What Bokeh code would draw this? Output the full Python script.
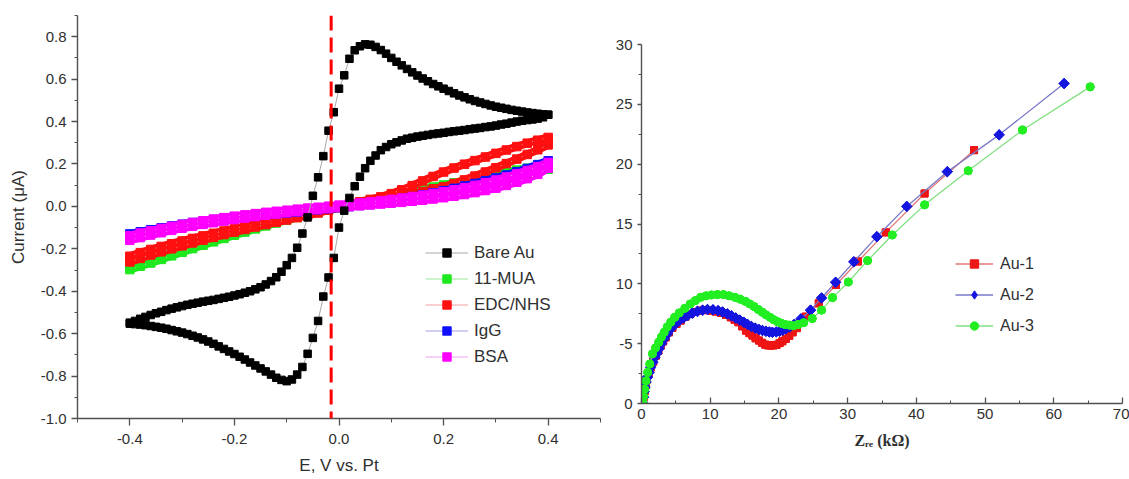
from bokeh.plotting import figure
from bokeh.models import FixedTicker, Span, Legend, LegendItem, PrintfTickFormatter, Range1d, Spacer
from bokeh.layouts import row, column
from bokeh.embed import file_html
from bokeh.resources import INLINE

# ---------------- Left panel: cyclic voltammograms ----------------
E_fine = [round(-0.40 + 0.01 * i, 2) for i in range(81)]      # potential sweep, 10 mV
bare_fwd = [-0.548, -0.540, -0.530, -0.521, -0.512, -0.504, -0.497, -0.489, -0.482, -0.476,
            -0.470, -0.464, -0.459, -0.454, -0.449, -0.445, -0.441, -0.436, -0.431, -0.426,
            -0.420, -0.414, -0.407, -0.400, -0.391, -0.381, -0.368, -0.352, -0.334, -0.308,
            -0.277, -0.243, -0.195, -0.128, -0.052, 0.050, 0.137, 0.237, 0.357, 0.444,
            0.555, 0.618, 0.696, 0.736, 0.755, 0.764, 0.762, 0.752, 0.737, 0.720,
            0.700, 0.682, 0.665, 0.648, 0.632, 0.617, 0.603, 0.590, 0.577, 0.566,
            0.555, 0.544, 0.533, 0.523, 0.514, 0.505, 0.497, 0.490, 0.483, 0.476,
            0.470, 0.465, 0.460, 0.455, 0.451, 0.447, 0.443, 0.440, 0.437, 0.434, 0.432]
# reverse scan, listed from +0.40 V back to -0.40 V
bare_rev = [0.432, 0.420, 0.414, 0.410, 0.407, 0.404, 0.400, 0.395, 0.390, 0.386,
            0.381, 0.377, 0.374, 0.370, 0.367, 0.364, 0.360, 0.357, 0.354, 0.351,
            0.347, 0.344, 0.341, 0.337, 0.333, 0.329, 0.324, 0.319, 0.311, 0.302,
            0.293, 0.280, 0.265, 0.240, 0.215, 0.180, 0.140, 0.095, 0.040, -0.020,
            -0.100, -0.243, -0.335, -0.425, -0.540, -0.620, -0.695, -0.757, -0.793, -0.816,
            -0.824, -0.818, -0.808, -0.793, -0.778, -0.764, -0.750, -0.736, -0.722, -0.709,
            -0.696, -0.684, -0.672, -0.660, -0.648, -0.637, -0.627, -0.618, -0.610, -0.602,
            -0.595, -0.589, -0.583, -0.577, -0.572, -0.568, -0.564, -0.560, -0.557, -0.555, -0.553]

E_coarse = [round(-0.40 + 0.02 * i, 2) for i in range(41)]    # potential sweep, 20 mV
mua_up = [-0.272, -0.256, -0.241, -0.226, -0.211, -0.196, -0.181, -0.167, -0.153, -0.139,
          -0.125, -0.111, -0.098, -0.085, -0.072, -0.059, -0.047, -0.035, -0.023, -0.011,
          0.001, 0.011, 0.021, 0.031, 0.041, 0.051, 0.061, 0.071, 0.081, 0.091,
          0.101, 0.111, 0.121, 0.131, 0.141, 0.151, 0.161, 0.171, 0.180, 0.188, 0.195]
mua_lo = [-0.298, -0.282, -0.267, -0.250, -0.233, -0.216, -0.199, -0.183, -0.167, -0.151,
          -0.136, -0.121, -0.106, -0.092, -0.078, -0.065, -0.052, -0.040, -0.028, -0.016,
          -0.005, 0.005, 0.014, 0.022, 0.030, 0.038, 0.046, 0.054, 0.062, 0.070,
          0.079, 0.088, 0.097, 0.107, 0.117, 0.128, 0.139, 0.150, 0.160, 0.168, 0.175]
edc_up = [-0.235, -0.218, -0.203, -0.189, -0.176, -0.163, -0.151, -0.139, -0.127, -0.116,
          -0.105, -0.094, -0.083, -0.073, -0.063, -0.053, -0.043, -0.033, -0.022, -0.010,
          0.003, 0.012, 0.022, 0.033, 0.045, 0.060, 0.078, 0.098, 0.120, 0.141,
          0.162, 0.181, 0.199, 0.216, 0.233, 0.250, 0.266, 0.282, 0.298, 0.312, 0.325]
edc_lo = [-0.262, -0.245, -0.229, -0.214, -0.200, -0.186, -0.172, -0.159, -0.146, -0.133,
          -0.121, -0.109, -0.097, -0.086, -0.075, -0.064, -0.053, -0.042, -0.031, -0.018,
          -0.006, 0.003, 0.011, 0.019, 0.028, 0.037, 0.047, 0.058, 0.070, 0.083,
          0.092, 0.108, 0.125, 0.143, 0.162, 0.182, 0.202, 0.223, 0.245, 0.267, 0.290]
igg_up = [-0.130, -0.120, -0.110, -0.101, -0.092, -0.084, -0.076, -0.069, -0.062, -0.055,
          -0.049, -0.043, -0.037, -0.032, -0.027, -0.022, -0.017, -0.013, -0.008, -0.003,
          0.002, 0.007, 0.012, 0.018, 0.024, 0.031, 0.038, 0.046, 0.055, 0.064,
          0.074, 0.085, 0.096, 0.108, 0.121, 0.134, 0.148, 0.163, 0.179, 0.197, 0.215]
igg_lo = [-0.145, -0.134, -0.124, -0.114, -0.105, -0.096, -0.088, -0.080, -0.073, -0.066,
          -0.059, -0.053, -0.047, -0.041, -0.036, -0.031, -0.026, -0.021, -0.016, -0.011,
          -0.006, -0.001, 0.004, 0.009, 0.015, 0.021, 0.027, 0.034, 0.041, 0.049,
          0.057, 0.066, 0.076, 0.086, 0.097, 0.109, 0.122, 0.136, 0.151, 0.167, 0.185]
bsa_up = [-0.138, -0.126, -0.115, -0.104, -0.094, -0.085, -0.076, -0.068, -0.060, -0.053,
          -0.046, -0.040, -0.034, -0.028, -0.023, -0.018, -0.013, -0.008, -0.004, 0.001,
          0.006, 0.011, 0.016, 0.021, 0.027, 0.033, 0.039, 0.046, 0.053, 0.061,
          0.069, 0.078, 0.088, 0.099, 0.111, 0.124, 0.138, 0.153, 0.169, 0.187, 0.207]
bsa_lo = [-0.160, -0.147, -0.135, -0.124, -0.113, -0.103, -0.094, -0.085, -0.077, -0.069,
          -0.062, -0.055, -0.048, -0.042, -0.036, -0.030, -0.025, -0.020, -0.015, -0.010,
          -0.005, -0.001, 0.003, 0.007, 0.011, 0.015, 0.019, 0.024, 0.029, 0.035,
          0.041, 0.048, 0.056, 0.065, 0.075, 0.086, 0.099, 0.114, 0.131, 0.151, 0.180]
dash_E = -0.015

cv_labels = ["Bare Au", "11-MUA", "EDC/NHS", "IgG", "BSA"]
cv_colors = ["#000000", "#1ee81e", "#ff1010", "#1010ff", "#ff00ff"]
cv_pale = ["#a8a8a8", "#9be89b", "#f0a0a0", "#a0a0e8", "#f0a0f0"]

# ---------------- Right panel: Nyquist plots ----------------
au1_x = [0.2, 0.3, 0.45, 0.6, 0.8, 1.05, 1.35, 1.7, 2.1, 2.45, 2.8, 3.15, 3.55, 4.0, 4.5, 5.1, 5.7, 6.4,
         7.1, 7.8, 8.5, 9.3, 10.1, 10.8, 11.55, 12.3, 13.0, 13.55, 14.1, 14.65, 15.2, 15.7, 16.15,
         16.6, 17.1, 17.55, 18.0, 18.4, 18.8, 19.2, 19.65, 20.1, 20.5, 21.0, 21.5, 22.0, 22.6, 23.9,
         25.8, 28.3, 31.5, 35.55, 41.2, 48.4]
au1_y = [0.05, 0.5, 1.0, 1.5, 2.0, 2.5, 3.0, 3.5, 4.0, 4.42, 4.84, 5.2, 5.53, 5.95, 6.32, 6.65, 6.93, 7.25,
         7.49, 7.65, 7.76, 7.8, 7.76, 7.68, 7.57, 7.4, 7.2, 7.0, 6.79, 6.45, 6.09, 5.88, 5.68,
         5.45, 5.26, 5.07, 4.92, 4.86, 4.84, 4.86, 4.9, 5.05, 5.2, 5.4, 5.65, 5.95, 6.3, 7.26,
         8.37, 9.9, 11.87, 14.3, 17.55, 21.17]
au2_x = [0.2, 0.3, 0.4, 0.5, 0.65, 0.87, 1.1, 1.35, 1.65, 1.95, 2.25, 2.55, 2.9, 3.3, 3.75, 4.25, 4.85,
         5.5, 6.1, 6.7, 7.4, 8.15, 8.9, 9.6, 10.4, 11.15, 11.8, 12.5, 13.1, 13.7, 14.3, 14.9, 15.45,
         16.0, 16.55, 17.1, 17.6, 18.1, 18.6, 19.05, 19.6, 20.1, 20.55, 21.0, 21.6, 22.2, 23.2, 24.6,
         26.2, 28.25, 30.9, 34.25, 38.6, 44.5, 52.05, 61.5]
au2_y = [0.05, 0.53, 1.0, 1.36, 1.8, 2.2, 2.6, 3.03, 3.45, 3.87, 4.2, 4.57, 5.0, 5.4, 5.8, 6.23, 6.6,
         6.93, 7.15, 7.35, 7.55, 7.7, 7.8, 7.85, 7.83, 7.76, 7.65, 7.49, 7.33, 7.15, 6.97, 6.79, 6.6,
         6.43, 6.3, 6.18, 6.1, 6.04, 5.98, 5.95, 5.98, 6.04, 6.12, 6.23, 6.4, 6.6, 7.07, 7.8,
         8.82, 10.13, 11.84, 13.94, 16.47, 19.37, 22.45, 26.74]
au3_x = [0.2, 0.3, 0.45, 0.65, 0.9, 1.2, 1.6, 2.05, 2.5, 2.9, 3.3, 3.75, 4.25, 4.85, 5.5, 6.3, 7.1,
         7.85, 8.6, 9.4, 10.2, 11.05, 11.9, 12.75, 13.6, 14.35, 15.1, 15.75, 16.4, 17.0, 17.6, 18.15,
         18.7, 19.25, 19.8, 20.35, 20.9, 21.5, 22.1, 22.8, 23.6, 24.85, 26.2, 27.8, 30.1, 32.9, 36.5,
         41.2, 47.55, 55.45, 65.3]
au3_y = [0.05, 0.6, 1.2, 1.9, 2.6, 3.3, 4.15, 4.65, 5.12, 5.55, 5.95, 6.4, 6.79, 7.2, 7.57, 7.95, 8.32,
         8.6, 8.87, 9.0, 9.07, 9.1, 9.1, 9.0, 8.87, 8.72, 8.54, 8.32, 8.1, 7.85, 7.62, 7.4,
         7.2, 7.0, 6.84, 6.7, 6.6, 6.55, 6.5, 6.6, 6.75, 7.1, 7.8, 8.85, 10.15, 11.94, 14.08,
         16.6, 19.45, 22.85, 26.46]
eis_labels = ["Au-1", "Au-2", "Au-3"]
eis_colors = ["#ee1515", "#1515e0", "#22ee22"]
eis_pale = ["#e07878", "#7878c8", "#80e080"]
eis_markers = ["square", "square", "circle"]
eis_angles = [0.0, 0.785398, 0.0]
eis_sizes = [7, 7.5, 8]
eis_legend_markers = ["square", "diamond", "circle"]
eis_legend_sizes = [7, 10, 8]

left_yticks = [-1.0, -0.8, -0.6, -0.4, -0.2, 0.0, 0.2, 0.4, 0.6, 0.8]
left_yminor = [-0.9, -0.7, -0.5, -0.3, -0.1, 0.1, 0.3, 0.5, 0.7, 0.9]
left_xticks = [-0.4, -0.2, 0.0, 0.2, 0.4]
left_xminor = [-0.5, -0.3, -0.1, 0.1, 0.3, 0.5]
right_yticks = [0, 5, 10, 15, 20, 25, 30]
right_yminor = [2.5, 7.5, 12.5, 17.5, 22.5, 27.5]
right_xticks = [0, 10, 20, 30, 40, 50, 60, 70]
right_xminor = [5, 15, 25, 35, 45, 55, 65]

FONT = "Liberation Sans"
SERIF = "Liberation Serif"
AX = "#505050"
TXT = "#303030"


def style_axis(ax, size, t_in, t_out, m_in, m_out, standoff):
    ax.axis_line_color = AX
    ax.axis_line_width = 1.4
    ax.major_tick_line_color = AX
    ax.minor_tick_line_color = AX
    ax.major_tick_line_width = 1.3
    ax.major_tick_in = t_in
    ax.major_tick_out = t_out
    ax.minor_tick_in = m_in
    ax.minor_tick_out = m_out
    ax.major_label_text_font = FONT
    ax.major_label_text_font_size = size
    ax.major_label_text_color = TXT
    ax.major_label_standoff = standoff
    ax.axis_label_text_color = TXT


# ---------- left figure ----------
p1 = figure(width=611, height=479, x_range=Range1d(-0.5, 0.5), y_range=Range1d(-1.0, 0.9),
            output_backend="svg", toolbar_location=None,
            min_border_left=77, min_border_right=11, min_border_top=15, min_border_bottom=61)
p1.outline_line_color = None
p1.grid.visible = False

p1.xaxis.ticker = FixedTicker(ticks=left_xticks, minor_ticks=left_xminor)
p1.yaxis.ticker = FixedTicker(ticks=left_yticks, minor_ticks=left_yminor)
p1.xaxis.formatter = PrintfTickFormatter(format="%.1f")
p1.yaxis.formatter = PrintfTickFormatter(format="%.1f")
style_axis(p1.xaxis[0], "15px", 0, 7, 0, 4, 8)
style_axis(p1.yaxis[0], "15px", 0, 6, 0, 3, 5)
p1.xaxis.axis_label = "E, V vs. Pt"
p1.xaxis.axis_label_standoff = 9
p1.yaxis.axis_label = "Current (μA)"
p1.yaxis.axis_label_standoff = 10
for ax in (p1.xaxis[0], p1.yaxis[0]):
    ax.axis_label_text_font = FONT
    ax.axis_label_text_font_size = "17px"
    ax.axis_label_text_font_style = "normal"

loops = [(E_coarse, mua_up, mua_lo), (E_coarse, edc_up, edc_lo),
         (E_coarse, igg_up, igg_lo), (E_coarse, bsa_up, bsa_lo)]
items_renderers = {}
for k, (E, up, lo) in enumerate(loops, start=1):
    xs = E + E[::-1]
    ys = up + lo[::-1]
    p1.line(xs, ys, line_color=cv_colors[k], line_width=8, line_join="round")
    thin = p1.line(xs, ys, line_color=cv_pale[k], line_width=1)
    sc = p1.scatter(xs, ys, marker="square", size=8.5, fill_color=cv_colors[k], line_color=cv_colors[k])
    items_renderers[k] = [thin, sc]

bx = E_fine + E_fine[::-1]
by = bare_fwd + bare_rev
thin0 = p1.line(bx, by, line_color=cv_pale[0], line_width=1)
sc0 = p1.scatter(bx, by, marker="square", size=7.5, fill_color="#000000", line_color="#000000")
items_renderers[0] = [thin0, sc0]

p1.add_layout(Span(location=dash_E, dimension="height", line_color="#ff0000",
                   line_width=3, line_dash="15 7"))

leg1 = Legend(items=[LegendItem(label=cv_labels[i], renderers=items_renderers[i]) for i in range(5)],
              location=(348, 51), glyph_width=43, glyph_height=21, label_height=21, spacing=5,
              label_standoff=6, padding=0, margin=0, border_line_color=None,
              background_fill_alpha=0, label_text_font=FONT, label_text_font_size="17px",
              label_text_color=TXT)
p1.add_layout(leg1)

# ---------- right figure ----------
p2 = figure(width=518, height=435, x_range=Range1d(0, 70), y_range=Range1d(0, 30),
            output_backend="svg", toolbar_location=None,
            min_border_left=30, min_border_right=7, min_border_top=15, min_border_bottom=61)
p2.outline_line_color = None
p2.grid.visible = False
p2.xaxis.ticker = FixedTicker(ticks=right_xticks, minor_ticks=right_xminor)
p2.yaxis.ticker = FixedTicker(ticks=right_yticks, minor_ticks=right_yminor)
p2.yaxis.major_label_overrides = {5: "-5"}
style_axis(p2.xaxis[0], "15px", 6, 0, 3, 0, 5)
style_axis(p2.yaxis[0], "15px", 0, 4, 0, 3, 5)
p2.xaxis.axis_label = "Zᵣₑ (kΩ)"
p2.xaxis.axis_label_standoff = 10
p2.xaxis.axis_label_text_font = SERIF
p2.xaxis.axis_label_text_font_size = "16px"
p2.xaxis.axis_label_text_font_style = "bold"

series = [(au1_x, au1_y), (au2_x, au2_y), (au3_x, au3_y)]
leg2_items = []
for k, (xs, ys) in enumerate(series):
    ln = p2.line(xs, ys, line_color=eis_pale[k], line_width=1.3)
    # legend-shaped marker, fully covered by the visible marker drawn on top
    lg = p2.scatter(xs, ys, marker=eis_legend_markers[k], size=eis_legend_sizes[k],
                    fill_color=eis_colors[k], line_color=eis_colors[k])
    p2.scatter(xs, ys, marker=eis_markers[k], size=eis_sizes[k], angle=eis_angles[k],
               fill_color=eis_colors[k], line_color=eis_colors[k])
    leg2_items.append(LegendItem(label=eis_labels[k], renderers=[ln, lg]))

leg2 = Legend(items=leg2_items, location=(314, 67), glyph_width=38, glyph_height=21,
              label_height=21, spacing=10, label_standoff=7, padding=0, margin=0,
              border_line_color=None, background_fill_alpha=0, label_text_font=FONT,
              label_text_font_size="16px", label_text_color=TXT)
p2.add_layout(leg2)

layout = row(p1, column(Spacer(width=518, height=29), p2))
open("out.html", "w").write(file_html(layout, INLINE))
